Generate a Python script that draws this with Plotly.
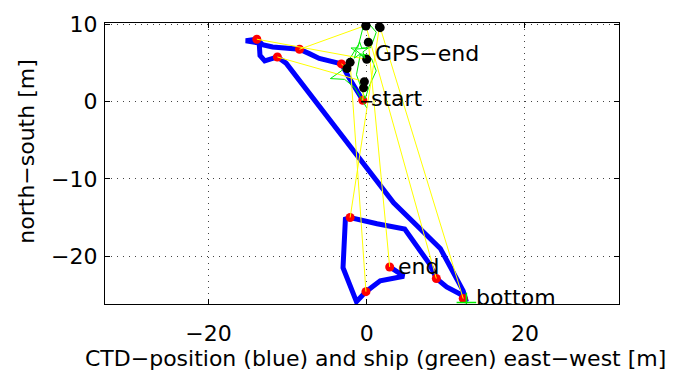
import plotly.graph_objects as go

# CTD track (blue), east-west / north-south in metres
ctd_x = [-0.5, -1.3, -2.3, -3.2, -4.5, -6.0, -7.2, -8.5, -11.9, -13.2, -13.9, -15.3, -13.6, -13.5,
         -12.9, -11.3, -10.2, -8.0, 3.4, 9.3, 12.2, 12.6, 11.8, 10.1, 8.8, 8.0, 6.3, 4.8, 1.3,
         -2.1, -2.7, -3.0, -1.3, -0.1, 1.7, 4.7, 2.9]
ctd_y = [0.2, 1.5, 3.2, 4.9, 5.3, 5.6, 6.2, 6.8, 7.1, 7.4, 8.1, 7.9, 7.6, 6.0,
         5.3, 5.8, 5.0, 2.1, -13.1, -19.0, -24.5, -25.9, -24.9, -24.0, -22.9, -21.1, -18.6, -16.5, -15.8,
         -15.0, -15.2, -21.5, -25.9, -24.6, -23.2, -22.6, -21.4]

# CTD positions at the GPS fixes (red) and matching ship positions (black)
red_x = [-0.5, -3.2, -8.5, -13.9, -11.3, -2.1, 12.2, 8.8, -0.1, 2.9]
red_y = [0.2, 4.9, 6.8, 8.1, 5.8, -15.0, -25.5, -22.9, -24.6, -21.4]
blk_x = [-0.4, -2.5, -0.1, 0.0, -0.3, 1.6, 1.7, -0.1, -2.1, 0.2]
blk_y = [1.8, 4.3, 9.9, 5.5, 2.6, 9.7, 9.6, 9.8, 5.1, 7.7]

# ship track (green)
ship_x = [0.0, -0.8, -1.5, -2.8, -4.6, -3.2, -2.0, -1.0, -0.5, 0.2, 1.2, 0.5, -1.5, -0.6,
          0.6, 1.2, 0.3, -0.2, -1.3, -0.8, 0.4]
ship_y = [-0.8, 0.5, 1.8, 2.9, 3.0, 4.0, 5.8, 7.5, 9.5, 10.2, 9.0, 7.0, 6.8, 6.0,
          5.6, 4.0, 2.0, 0.4, 3.5, 6.2, 6.0]

labels = ["start", "GPS−end", "end", "bottom"]
label_x = [0.6, 1.0, 4.0, 13.8]
label_y = [0.0, 5.9, -21.7, -25.8]

fnt = "DejaVu Sans, sans-serif"
fs = 22

link_x, link_y = [], []
for rx, ry, bx, by in zip(red_x, red_y, blk_x, blk_y):
    link_x += [rx, bx, None]
    link_y += [ry, by, None]

fig = go.Figure()
fig.add_trace(go.Scatter(x=ctd_x, y=ctd_y, mode="lines",
                         line=dict(color="#0000ff", width=5)))
fig.add_trace(go.Scatter(x=red_x, y=red_y, mode="markers",
                         marker=dict(color="#ff0000", size=9)))
fig.add_trace(go.Scatter(x=ship_x, y=ship_y, mode="lines",
                         line=dict(color="#00ee00", width=1)))
fig.add_trace(go.Scatter(x=link_x, y=link_y, mode="lines",
                         line=dict(color="#ffff00", width=1)))
fig.add_trace(go.Scatter(x=blk_x, y=blk_y, mode="markers",
                         marker=dict(color="black", size=9)))
# markers for start, GPS end and bottom
fig.add_trace(go.Scatter(x=[ship_x[0]], y=[0.0], mode="markers",
                         marker=dict(symbol="line-ew", size=8, line=dict(color="black", width=1.5))))
fig.add_trace(go.Scatter(x=[-0.9], y=[6.6], mode="markers",
                         marker=dict(symbol="star-open", size=13, color="#00ee00", line=dict(width=1))))
fig.add_trace(go.Scatter(x=[12.6], y=[-26.0], mode="markers",
                         marker=dict(symbol="cross-thin", size=14, line=dict(color="#00ee00", width=1.5))))

for t, x, y in zip(labels, label_x, label_y):
    fig.add_annotation(x=x, y=y, text=t, showarrow=False, xanchor="left", yanchor="middle",
                       xshift=-2, yshift=3, font=dict(size=fs, color="black", family=fnt))

# axis titles
fig.add_annotation(text="CTD−position (blue) and ship (green) east−west [m]", xref="paper", yref="paper",
                   x=0.527, y=0, xanchor="center", yanchor="middle", yshift=-54, showarrow=False,
                   font=dict(size=fs, color="black", family=fnt))
fig.add_annotation(text="north−south [m]", xref="paper", yref="paper", textangle=-90,
                   x=0, y=0.542, xanchor="center", yanchor="middle", xshift=-78, showarrow=False,
                   font=dict(size=fs, color="black", family=fnt))

ax = dict(showline=True, linecolor="black", linewidth=1.2, mirror="allticks", ticks="inside",
          ticklen=5, tickcolor="black", zeroline=False, showgrid=True, gridcolor="#444",
          gridwidth=1, griddash="1px,5px", tickfont=dict(size=fs, color="black", family=fnt))

fig.update_layout(
    width=686, height=381, showlegend=False,
    paper_bgcolor="white", plot_bgcolor="white",
    margin=dict(l=105, r=67, t=16, b=77),
    xaxis=dict(ax, range=[-33.1, 31.9], tickvals=[-20, 0, 20], ticktext=["−20", "0", "20"],
               ticklabelstandoff=9),
    yaxis=dict(ax, range=[-26.2, 10.2], tickvals=[-20, -10, 0, 10], ticktext=["−20", "−10", "0", "10"],
               ticklabelstandoff=2),
)

fig.write_html("out.html", config={"displayModeBar": False},
               post_script="document.body.style.margin='0';")
